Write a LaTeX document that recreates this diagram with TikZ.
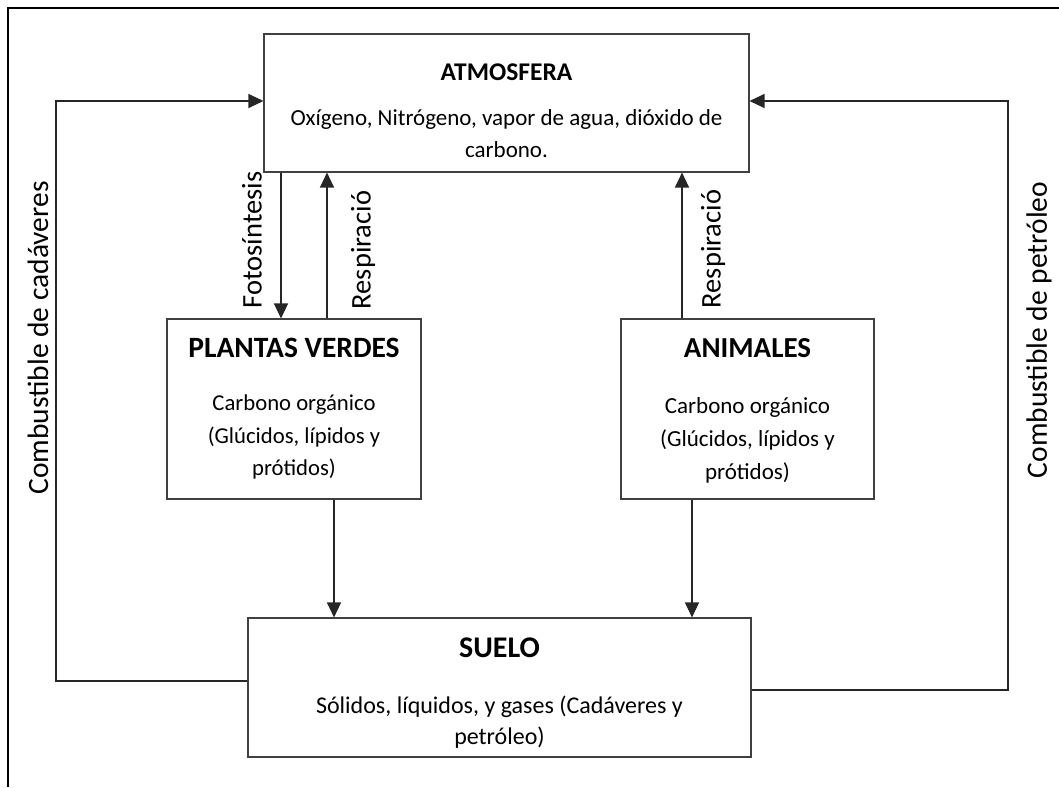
\documentclass[tikz,border=0pt]{standalone}
\usepackage{fontspec}
\setmainfont{Carlito}
\usetikzlibrary{arrows.meta}

\begin{document}
\begin{tikzpicture}[x=1pt,y=-1pt,
    box/.style={draw=black!75, line width=1.1pt, inner sep=0pt},
    flow/.style={-{Triangle[width=14pt,length=15pt]}, draw=black!85, line width=1.2pt},
    title/.style={font=\fontsize{25.5}{30}\selectfont\bfseries},
    body/.style={align=center, font=\fontsize{23}{32}\selectfont},
    side/.style={rotate=90, font=\fontsize{28.5}{32}\selectfont}]

    \useasboundingbox (0,0) rectangle (1059,787);
    \draw[line width=2.5pt] (1059,8) -- (8,8) -- (8,787);

    \node[box, minimum width=485pt, minimum height=138pt] (atm) at (506.5,103) {};
    \node[title] (atmT) at (506.5,72) {ATMOSFERA};
    \node[body] (atmB) at (506.5,134) {Oxígeno, Nitrógeno, vapor de agua, dióxido de\\carbono.};

    \node[box, minimum width=254pt, minimum height=180pt] (plantas) at (294,409) {};
    \node[title, font=\fontsize{29.5}{34}\selectfont\bfseries] (plantasT) at (294,348) {PLANTAS VERDES};
    \node[body, font=\fontsize{22.7}{32.5}\selectfont] (plantasB) at (294,437) {Carbono orgánico\\(Glúcidos, lípidos y\\prótidos)};

    \node[box, minimum width=253pt, minimum height=180pt] (animales) at (747.5,409) {};
    \node[title, font=\fontsize{29}{34}\selectfont\bfseries] (animalesT) at (747.5,348) {ANIMALES};
    \node[body, font=\fontsize{23}{33}\selectfont] (animalesB) at (747.5,440) {Carbono orgánico\\(Glúcidos, lípidos y\\prótidos)};

    \node[box, minimum width=503pt, minimum height=139pt] (suelo) at (499.5,687.5) {};
    \node[title, font=\fontsize{30}{34}\selectfont\bfseries] (sueloT) at (499.5,648) {SUELO};
    \node[body, font=\fontsize{24}{31}\selectfont] (sueloB) at (499.5,722) {Sólidos, líquidos, y gases (Cadáveres y\\petróleo)};

    \path ([xshift=-13pt]plantas.north) coordinate (fotoEnd);
    \path ([xshift=33pt]plantas.north) coordinate (respP);
    \path ([xshift=-65.5pt]animales.north) coordinate (respA);
    \path ([xshift=40pt]plantas.south) coordinate (plantasOut);
    \path ([xshift=-55.5pt]animales.south) coordinate (animalesOut);

    \draw[flow] (fotoEnd |- atm.south) -- (fotoEnd);
    \draw[flow] (respP) -- (respP |- atm.south);
    \draw[flow] (respA) -- (respA |- atm.south);
    \draw[flow] (plantasOut) -- (plantasOut |- suelo.north);
    \draw[flow] (animalesOut) -- (animalesOut |- suelo.north);

    \coordinate (railL) at (56,400);
    \coordinate (railR) at (1008,400);
    \draw[flow] ([yshift=6.5pt]suelo.west) -| (railL) |- ([yshift=2pt]atm.west);
    \draw[flow] ([yshift=-2.5pt]suelo.east) -| (railR) |- ([yshift=2pt]atm.east);

    \node[side] (fotoL) at (252,240) {Fotosíntesis};
    \node[side] (respPL) at (363,250) {Respiració};
    \node[side] (respAL) at (713,249) {Respiració};
    \node[side, font=\fontsize{29.5}{32}\selectfont] (cadL) at (38,338) {Combustible de cadáveres};
    \node[side, font=\fontsize{29.5}{32}\selectfont] (petL) at (1039,330) {Combustible de petróleo};

\end{tikzpicture}
\end{document}
